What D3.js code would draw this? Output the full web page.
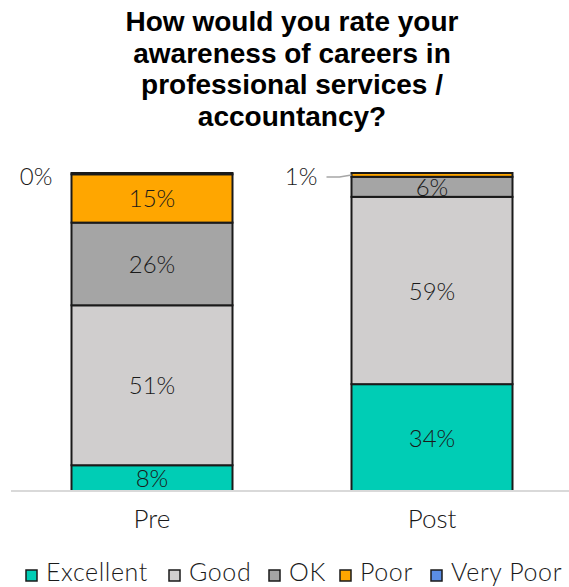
<!DOCTYPE html>
<html>
<head>
<meta charset="utf-8">
<script src="https://cdn.jsdelivr.net/npm/d3@7"></script>
<style>
  html, body { margin: 0; padding: 0; background: #fff; }
  #chart { width: 569px; height: 587px; }
  text { font-family: 'Liberation Sans', Arial, sans-serif; }
</style>
</head>
<body>
<div id="chart"></div>
<script>
/* ---------- Data ---------- */
const titleLines = ["How would you rate your", "awareness of careers in", "professional services /", "accountancy?"];
const groups = ["Pre", "Post"];
const seriesNames = ["Excellent", "Good", "OK", "Poor", "Very Poor"];
const seriesColors = ["#00cdb5", "#d0cece", "#a5a5a5", "#ffa600", "#5b8ee6"];
const excellent = [8.1, 33.6];
const good = [50.3, 58.9];
const ok = [26.0, 6.3];
const poor = [15.2, 1.2];
const veryPoor = [0.4, 0.0];
const labels = [["8%", "51%", "26%", "15%", "0%"], ["34%", "59%", "6%", "1%", ""]];

const lightFont = "'Lato', 'Open Sans', sans-serif";

/* ---------- Chart ---------- */
function drawChart() {
  const W = 569, H = 587;
  const svg = d3.select("#chart").append("svg")
    .attr("width", W).attr("height", H)
    .attr("viewBox", `0 0 ${W} ${H}`);

  // Title
  svg.append("g").selectAll("text")
    .data(titleLines)
    .enter().append("text")
    .attr("x", 292)
    .attr("y", (d, i) => 31 + i * 31.5)
    .attr("text-anchor", "middle")
    .style("font-size", "28px")
    .style("font-weight", "700")
    .style("fill", "#000")
    .text(d => d);

  const plot = { left: 11, right: 569, top: 173, bottom: 491 };
  const cols = [excellent, good, ok, poor, veryPoor];
  const rows = groups.map((g, gi) => {
    const r = { group: g };
    seriesNames.forEach((s, si) => r[s] = cols[si][gi]);
    return r;
  });

  const x = d3.scaleBand()
    .domain(groups)
    .range([12, 572])
    .paddingInner(0.425)
    .paddingOuter(0.2125);

  const stack = d3.stack().keys(seriesNames).offset(d3.stackOffsetExpand);
  const layers = stack(rows);

  const y = d3.scaleLinear()
    .domain([0, 1])
    .range([plot.bottom, plot.top]);

  // Bars
  const layerG = svg.selectAll(".layer")
    .data(layers)
    .enter().append("g")
    .attr("fill", (d, i) => seriesColors[i]);

  layerG.selectAll("rect")
    .data(d => d)
    .enter().append("rect")
    .attr("x", d => x(d.data.group))
    .attr("y", d => y(d[1]))
    .attr("width", x.bandwidth())
    .attr("height", d => Math.max(0, y(d[0]) - y(d[1])))
    .attr("stroke", "#1a1a1a")
    .attr("stroke-width", 2);

  // Axis baseline
  svg.append("line")
    .attr("x1", plot.left).attr("x2", plot.right)
    .attr("y1", plot.bottom).attr("y2", plot.bottom)
    .attr("stroke", "#d9d9d9")
    .attr("stroke-width", 2);

  // Data labels
  layers.forEach((layer, si) => {
    layer.forEach((d, gi) => {
      const txt = labels[gi][si];
      if (!txt) return;
      const h = y(d[0]) - y(d[1]);
      const bx = x(d.data.group);
      let lx = bx + x.bandwidth() / 2;
      let ly = (y(d[0]) + y(d[1])) / 2 + 9;
      let anchor = "middle";
      if (h < 8) {
        // small slices: label outside, left of the bar
        anchor = "end";
        ly = y(d[1]) + 12;
        if (gi === 1) {
          lx = bx - 34;
          const my = y((d[0] + d[1]) / 2);
          svg.append("path")
            .attr("d", `M${lx + 9},${my + 2} L${bx - 12},${my + 2} L${bx},${my}`)
            .attr("fill", "none")
            .attr("stroke", "#a6a6a6")
            .attr("stroke-width", 1.5);
        } else {
          lx = bx - 19;
        }
      }
      svg.append("text")
        .attr("x", lx)
        .attr("y", ly)
        .attr("text-anchor", anchor)
        .style("font-family", lightFont)
        .style("font-weight", "300")
        .style("font-size", "24px")
        .style("fill", "#1a1a1a")
        .text(txt);
    });
  });

  // Category labels
  svg.selectAll(".cat")
    .data(groups)
    .enter().append("text")
    .attr("x", d => x(d) + x.bandwidth() / 2)
    .attr("y", 528)
    .attr("text-anchor", "middle")
    .style("font-family", lightFont)
    .style("font-weight", "300")
    .style("font-size", "26px")
    .style("fill", "#1a1a1a")
    .text(d => d);

  // Legend
  const legendX = [26, 169, 269, 340, 431];
  const items = svg.append("g").selectAll("g")
    .data(seriesNames)
    .enter().append("g")
    .attr("transform", (d, i) => `translate(${legendX[i]}, 570)`);

  items.append("rect")
    .attr("width", 11).attr("height", 11)
    .attr("fill", (d, i) => seriesColors[i])
    .attr("stroke", "#1a1a1a")
    .attr("stroke-width", 1.5);

  items.append("text")
    .attr("x", 20)
    .attr("y", 11)
    .style("font-family", lightFont)
    .style("font-weight", "300")
    .style("font-size", "25px")
    .style("letter-spacing", "0.6px")
    .style("fill", "#1a1a1a")
    .text(d => d);
}

drawChart();
</script>
</body>
</html>
